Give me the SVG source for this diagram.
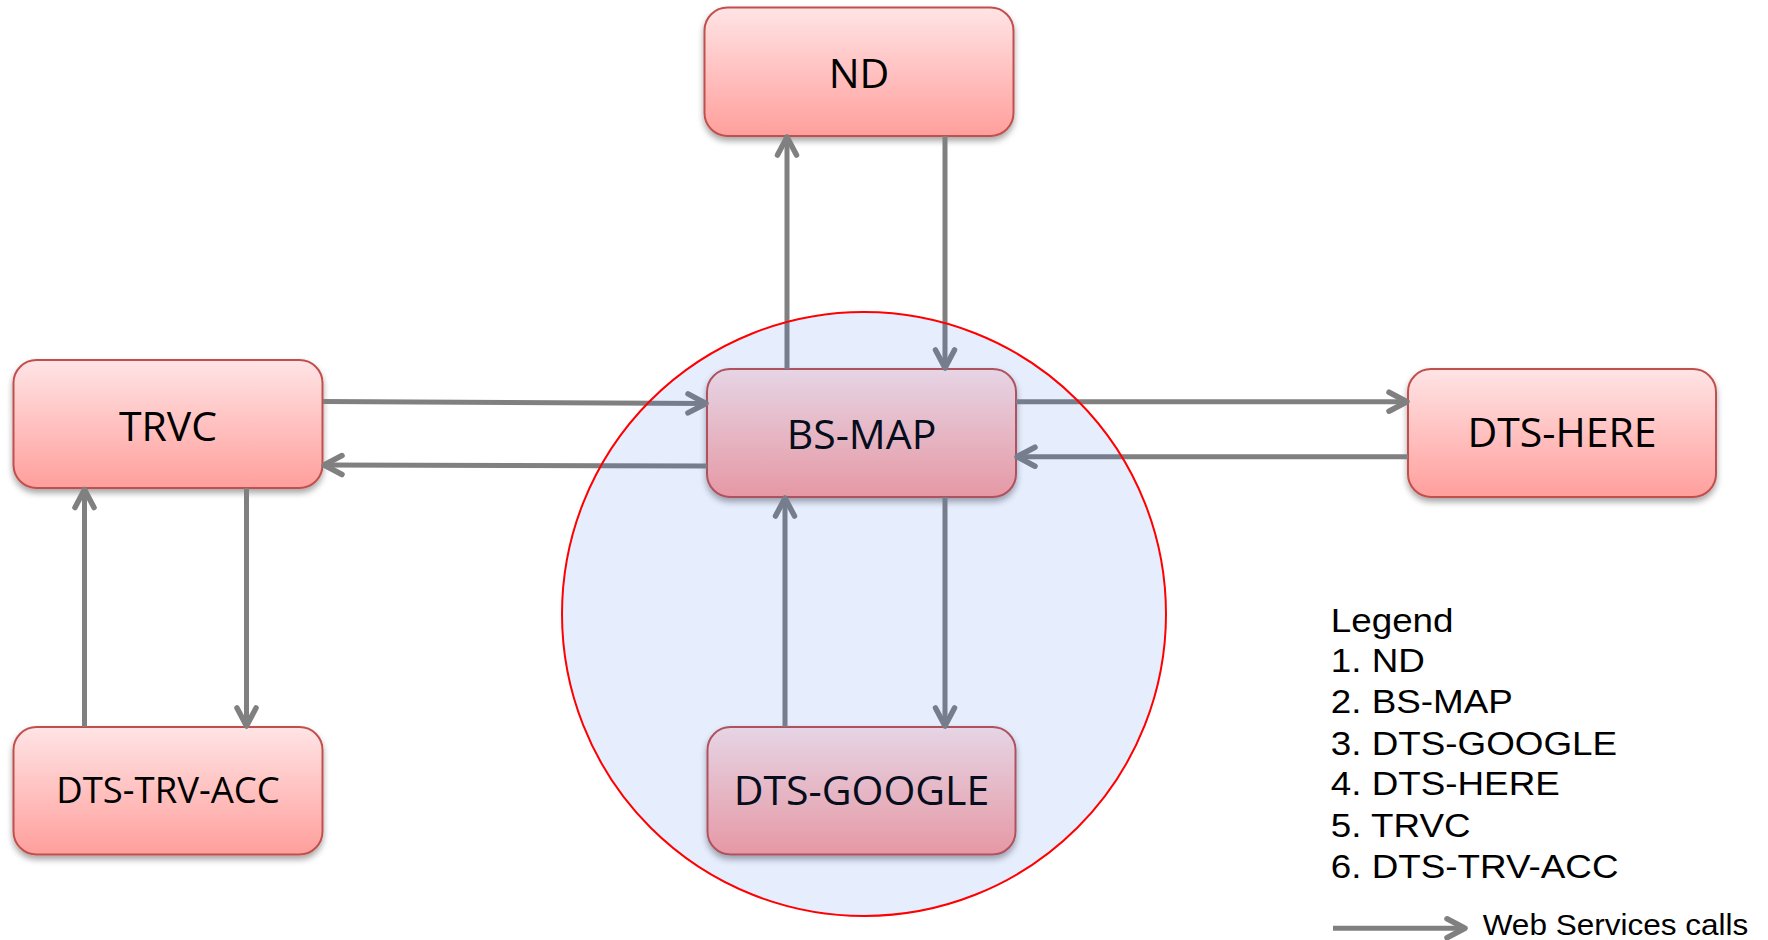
<svg xmlns="http://www.w3.org/2000/svg" width="1768" height="940" viewBox="0 0 1768 940">
<style>
.box{fill:url(#pink);stroke:#C0504D;stroke-width:2;filter:url(#shadow)}
.lbl{font-family:"Open Sans","DejaVu Sans",sans-serif;font-size:41px;fill:#000;text-anchor:middle}
.con{stroke:#808080;stroke-width:5;fill:none;marker-end:url(#arr)}
.leg{font-family:"Liberation Sans",Arial,sans-serif;font-size:32.6px;fill:#000}
</style>
<defs>
<linearGradient id="pink" x1="0" y1="0" x2="0" y2="1">
<stop offset="0" stop-color="#FFE4E5"/>
<stop offset="1" stop-color="#FF9F9C"/>
</linearGradient>
<filter id="shadow" x="-10%" y="-10%" width="120%" height="130%">
<feDropShadow dx="0" dy="4" stdDeviation="3" flood-color="#000" flood-opacity="0.35"/>
</filter>
<marker id="arr" markerUnits="userSpaceOnUse" viewBox="-24 -14 28 28" markerWidth="28" markerHeight="28" refX="0" refY="0" orient="auto">
<path d="M-18,-9.5 L0,0 L-18,9.5" fill="none" stroke="#808080" stroke-width="5.5" stroke-linecap="round" stroke-linejoin="round"/>
</marker>
</defs>
<rect width="1768" height="940" fill="#fff"/>

<g id="ND"><rect class="box" x="704.5" y="7.5" width="309" height="128.5" rx="23"/><text class="lbl" x="859" y="88">ND</text></g>
<g id="TRVC"><rect class="box" x="13.5" y="360" width="309" height="128" rx="23"/><text class="lbl" x="168" y="440.5">TRVC</text></g>
<g id="BS-MAP"><rect class="box" x="707" y="369" width="309" height="128" rx="23"/><text class="lbl" x="861.5" y="449">BS-MAP</text></g>
<g id="DTS-HERE"><rect class="box" x="1408" y="369" width="308" height="128" rx="23"/><text class="lbl" x="1562" y="447">DTS-HERE</text></g>
<g id="DTS-TRV-ACC"><rect class="box" x="13.5" y="727" width="309" height="127.5" rx="23"/><text class="lbl" x="168" y="802.5" style="font-size:36.5px">DTS-TRV-ACC</text></g>
<g id="DTS-GOOGLE"><rect class="box" x="707.5" y="727" width="308" height="127.5" rx="23"/><text class="lbl" x="861.5" y="805">DTS-GOOGLE</text></g>

<g id="connectors">
<line class="con" x1="787" y1="369" x2="787" y2="137"/>
<line class="con" x1="945" y1="136" x2="945" y2="368"/>
<line class="con" x1="323" y1="401.5" x2="706" y2="403.5"/>
<line class="con" x1="707" y1="466" x2="324" y2="465"/>
<line class="con" x1="1016" y1="401.7" x2="1407" y2="401.7"/>
<line class="con" x1="1408" y1="456.7" x2="1017" y2="456.7"/>
<line class="con" x1="785" y1="727" x2="785" y2="498"/>
<line class="con" x1="945" y1="497" x2="945" y2="726"/>
<line class="con" x1="84.5" y1="727" x2="84.5" y2="489.5"/>
<line class="con" x1="246.5" y1="488" x2="246.5" y2="726"/>
</g>

<g id="zone">
<circle cx="864" cy="614" r="302" fill="rgb(47,105,230)" fill-opacity="0.12" stroke="#FF0000" stroke-width="2"/>
</g>

<g id="legend">
<g transform="translate(1330.7 0) scale(1.13 1)">
<text class="leg" x="0" y="631.7">Legend</text>
<text class="leg" x="0" y="671.7">1. ND</text>
<text class="leg" x="0" y="713.3">2. BS-MAP</text>
<text class="leg" x="0" y="755">3. DTS-GOOGLE</text>
<text class="leg" x="0" y="795.5">4. DTS-HERE</text>
<text class="leg" x="0" y="836.7">5. TRVC</text>
<text class="leg" x="0" y="877.7">6. DTS-TRV-ACC</text>
</g>
<line class="con" x1="1333" y1="928.3" x2="1465" y2="928.3"/>
<text x="1482.7" y="935" style="font-family:'Liberation Sans',Arial,sans-serif;font-size:30px" textLength="265.6" lengthAdjust="spacingAndGlyphs">Web Services calls</text>
</g>
</svg>
